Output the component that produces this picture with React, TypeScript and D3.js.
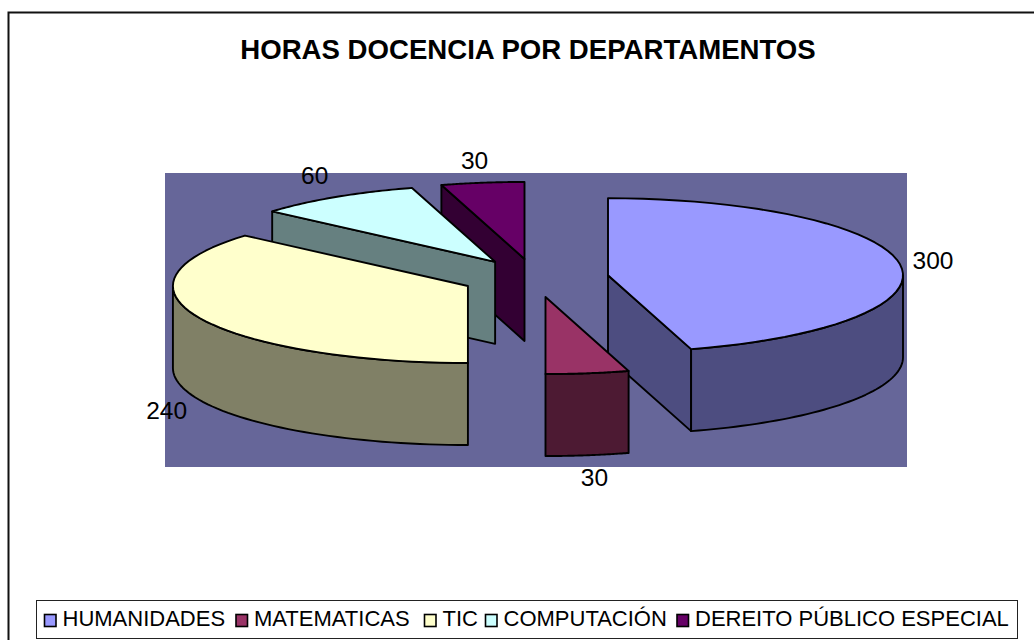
import { useEffect, useRef } from 'react';
import * as d3 from 'd3';

const title = 'HORAS DOCENCIA POR DEPARTAMENTOS';
const categories = ['HUMANIDADES', 'MATEMATICAS', 'TIC', 'COMPUTACIÓN', 'DEREITO PÚBLICO ESPECIAL'];
const values = [300, 30, 240, 60, 30];
const colors = ['#9999ff', '#993366', '#ffffcc', '#ccffff', '#660066'];

// layout
const W = 1034, H = 640;
const cx = 535, cy = 278, rx = 295, ry = 77, depth = 82, explode = 0.25;
const plot = { x: 165, y: 173, w: 742, h: 294 };
const legendBox = { x: 36.5, y: 600.5, w: 981, h: 38 };
const legendX = [44, 235.5, 424, 485, 676.5];
const labelNudge = [[33, -4], [7, 104], [-33, 93], [-21, -22], [-8, -22]];
const drawOrder = [4, 3, 0, 2, 1]; // back to front
const font = '"Liberation Sans", Arial, sans-serif';

function half(c: string) {
  const r = d3.rgb(c);
  return d3.rgb(r.r * 0.5, r.g * 0.5, r.b * 0.5).formatHex();
}

export default function App() {
  const ref = useRef<SVGSVGElement | null>(null);
  useEffect(() => {
    const svg = d3.select(ref.current!);
    svg.selectAll('*').remove();
    svg.append('rect').attr('width', W).attr('height', H).attr('fill', '#fff');
    // chart frame runs off the image on the right and bottom
    svg.append('path').attr('d', `M8.5,${H}V12.5H${W}`).attr('fill', 'none').attr('stroke', '#111').attr('stroke-width', 2);

    svg.append('text').attr('x', 528).attr('y', 59).attr('text-anchor', 'middle')
      .attr('font-family', font).attr('font-weight', 'bold').attr('font-size', 27.6).attr('fill', '#000').text(title);

    svg.append('rect').attr('x', plot.x).attr('y', plot.y).attr('width', plot.w).attr('height', plot.h).attr('fill', '#666699');

    const arcs = d3.pie<number>().sort(null)(values);
    const line = d3.line();
    const px = (a: number, r = 1) => rx * r * Math.sin(a);
    const py = (a: number, r = 1) => -ry * r * Math.cos(a);
    const angles = (a0: number, a1: number) => d3.range(0, 49).map((i) => a0 + ((a1 - a0) * i) / 48);

    const slices = arcs.map((d, i) => {
      const mid = (d.startAngle + d.endAngle) / 2;
      return { ...d, i, mid, ax: cx + px(mid, explode), ay: cy + py(mid, explode) };
    });

    const g = svg.append('g').attr('stroke', '#000').attr('stroke-width', 1.9).attr('stroke-linejoin', 'round');
    drawOrder.forEach((k) => {
      const s = slices[k];
      const side = half(colors[k]);
      const rimPt = (a: number, dy = 0): [number, number] => [s.ax + px(a), s.ay + py(a) + dy];
      const wall = (a: number) => {
        g.append('path').attr('fill', side).attr('d', line([[s.ax, s.ay], rimPt(a), rimPt(a, depth), [s.ax, s.ay + depth]])! + 'Z');
      };
      // cut faces turned towards the viewer
      if (Math.sin(s.startAngle) < -1e-6) wall(s.startAngle);
      if (Math.sin(s.endAngle) > 1e-6) wall(s.endAngle);
      // outer rim, front half of the ellipse only
      const a0 = Math.max(s.startAngle, Math.PI / 2);
      const a1 = Math.min(s.endAngle, (3 * Math.PI) / 2);
      if (a1 > a0) {
        const top = angles(a0, a1).map((a) => rimPt(a));
        const bottom = angles(a0, a1).map((a) => rimPt(a, depth)).reverse();
        g.append('path').attr('fill', side).attr('d', line([...top, ...bottom])! + 'Z');
      }
      // top face
      const face = angles(s.startAngle, s.endAngle).map((a) => rimPt(a));
      g.append('path').attr('fill', colors[k]).attr('d', line([[s.ax, s.ay], ...face])! + 'Z');
    });

    slices.forEach((s) => {
      svg.append('text')
        .attr('x', s.ax + px(s.mid) + labelNudge[s.i][0]).attr('y', s.ay + py(s.mid) + labelNudge[s.i][1] + 8.5)
        .attr('text-anchor', 'middle').attr('font-family', font).attr('font-size', 24.5).attr('fill', '#000')
        .text(values[s.i]);
    });

    svg.append('rect').attr('x', legendBox.x).attr('y', legendBox.y).attr('width', legendBox.w).attr('height', legendBox.h)
      .attr('fill', '#fff').attr('stroke', '#222').attr('stroke-width', 1);
    categories.forEach((c, i) => {
      svg.append('rect').attr('x', legendX[i] + 0.5).attr('y', 614.5).attr('width', 11.5).attr('height', 12)
        .attr('fill', colors[i]).attr('stroke', '#000').attr('stroke-width', 1.6);
      svg.append('text').attr('x', legendX[i] + 18.5).attr('y', 625.5)
        .attr('font-family', font).attr('font-size', 22).attr('fill', '#000').text(c);
    });
  }, []);
  return <svg ref={ref} width={W} height={H} style={{ position: 'absolute', left: 0, top: 0 }} />;
}
